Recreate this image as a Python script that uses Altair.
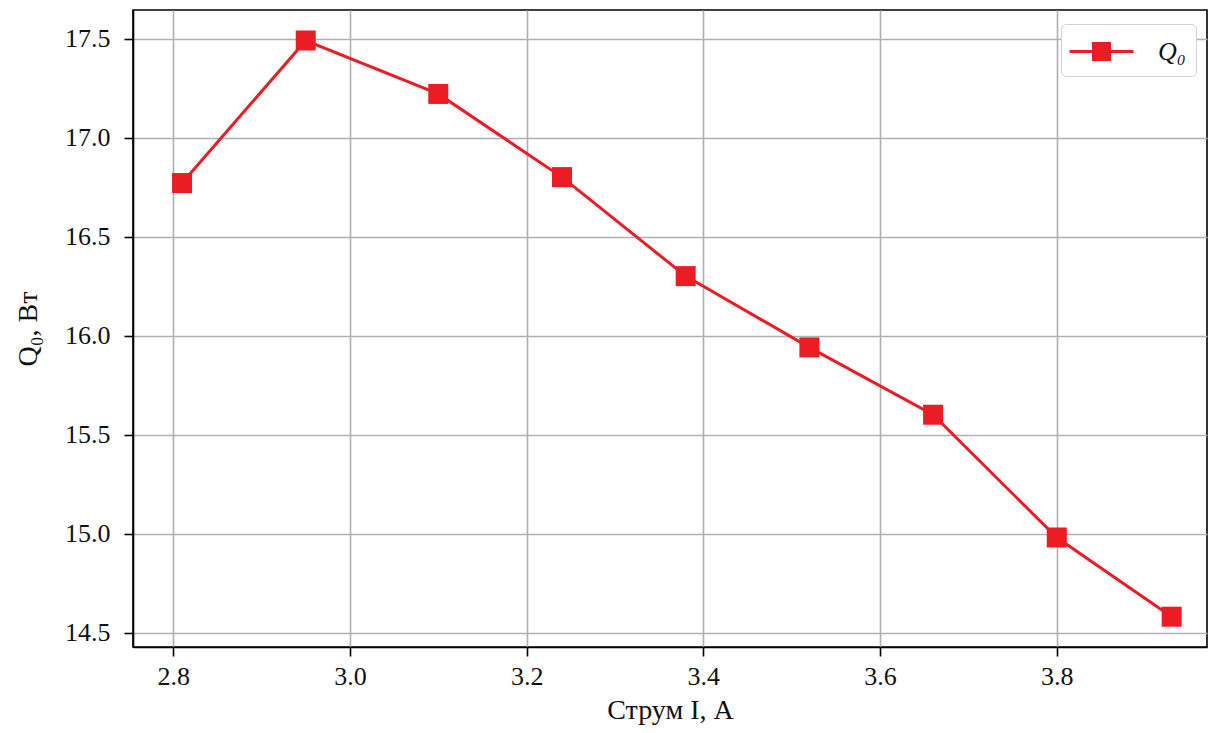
import altair as alt
import pandas as pd

current = [2.81, 2.95, 3.10, 3.24, 3.38, 3.52, 3.66, 3.80, 3.93]
q0 = [16.77, 17.49, 17.22, 16.80, 16.30, 15.94, 15.60, 14.98, 14.58]
series = ["Q₀"] * len(current)
x_ticks = [2.8, 3.0, 3.2, 3.4, 3.6, 3.8]
y_ticks = [14.5, 15.0, 15.5, 16.0, 16.5, 17.0, 17.5]

df = pd.DataFrame({"I": current, "Q": q0, "s": series})

RED = "#ec1c24"
FONT = "Liberation Serif"
TXT = "#111"

color = alt.Color(
    "s:N",
    scale=alt.Scale(range=[RED]),
    legend=alt.Legend(
        title=None,
        orient="none",
        legendX=928,
        legendY=14,
        symbolType="M-2,0H-0.5M0.5,0H2M-0.5,-0.5H0.5V0.5H-0.5Z",
        symbolSize=1024,
        symbolStrokeWidth=3,
        symbolFillColor=RED,
        symbolStrokeColor=RED,
        symbolOffset=13,
        labelFont=FONT,
        labelFontSize=26,
        labelFontStyle="italic",
        labelColor=TXT,
        labelOffset=39,
        padding=10,
        strokeColor="#d0d0d0",
        cornerRadius=5,
        fillColor="white",
    ),
)

x = alt.X(
    "I:Q",
    scale=alt.Scale(domain=[2.7545, 3.97], nice=False, zero=False),
    axis=alt.Axis(values=x_ticks, format=".1f", title="Струм I, А",
                  labelPadding=7, titlePadding=7),
)
y = alt.Y(
    "Q:Q",
    scale=alt.Scale(domain=[14.427, 17.644], nice=False, zero=False),
    axis=alt.Axis(values=y_ticks, format=".1f", title="Q₀, Вт",
                  labelPadding=14, titlePadding=22),
)

line = alt.Chart(df).mark_line(strokeWidth=3).encode(x=x, y=y, color=color)
pts = alt.Chart(df).mark_point(shape="square", filled=True, size=400, opacity=1).encode(
    x=x, y=y, color=alt.Color("s:N", scale=alt.Scale(range=[RED]), legend=None)
)

chart = (
    alt.layer(line, pts)
    .properties(
        width=1074,
        height=637,
        autosize=alt.AutoSizeParams(type="none"),
        padding={"left": 125, "top": 2, "right": 3, "bottom": 78},
    )
    .configure_view(stroke="black", strokeWidth=1.6)
    .configure_axis(
        labelFont=FONT,
        labelFontSize=26,
        labelColor=TXT,
        titleFont=FONT,
        titleFontSize=28,
        titleFontWeight="normal",
        titleColor=TXT,
        grid=True,
        gridColor="#b0b0b0",
        gridWidth=1.6,
        domain=True,
        domainColor="black",
        domainWidth=1.6,
        tickColor="black",
        tickWidth=1.6,
        tickSize=9,
    )
)

chart.save("out.html", embed_options={"renderer": "svg", "actions": False})
